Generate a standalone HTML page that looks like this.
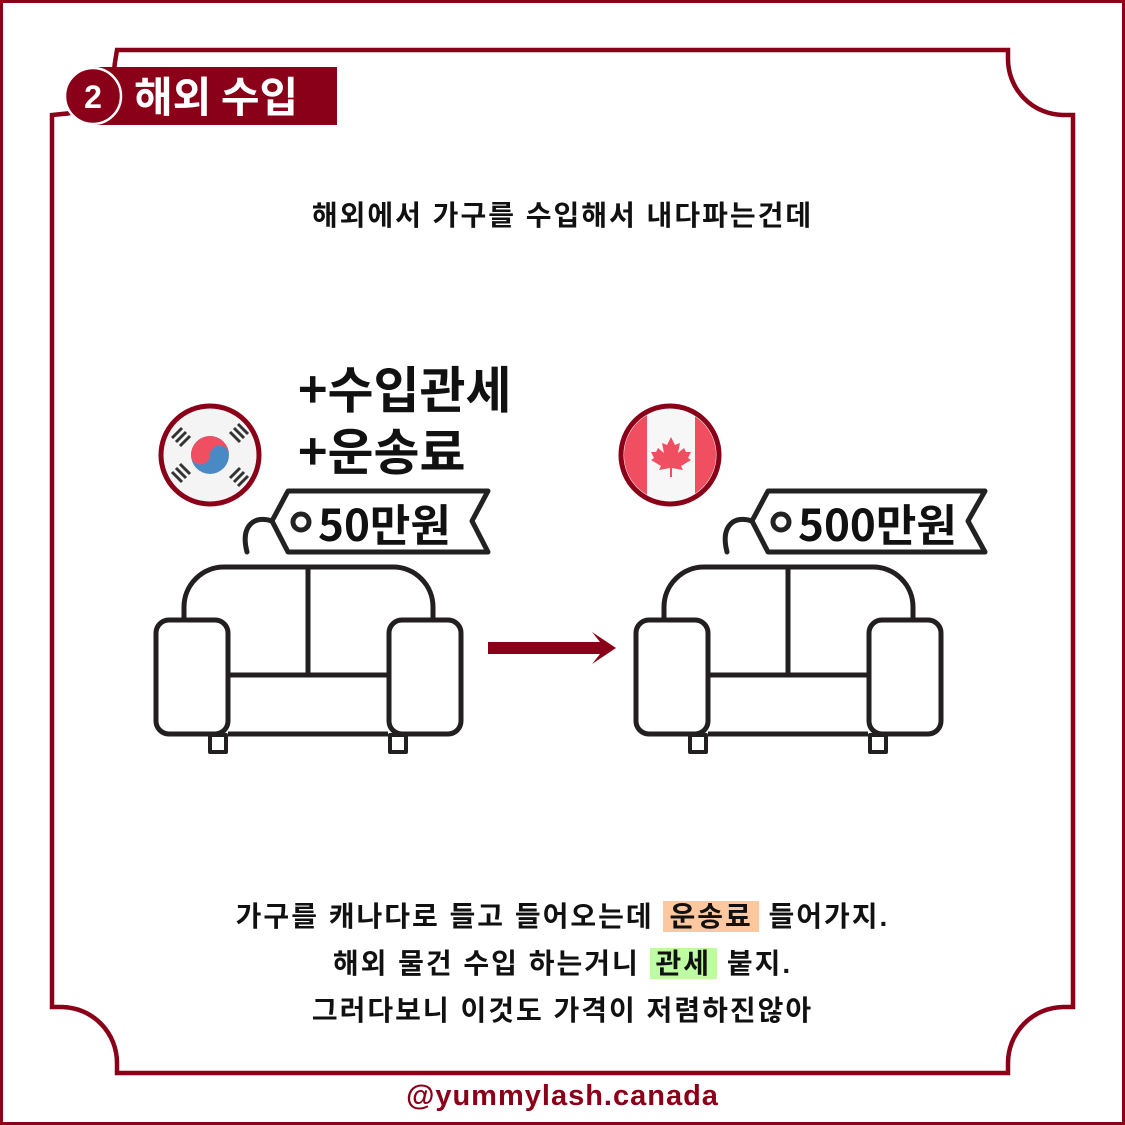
<!DOCTYPE html>
<html><head><meta charset="utf-8"><style>
html,body{margin:0;padding:0;background:#fff}
.w{position:relative;width:1125px;height:1125px;overflow:hidden;font-family:"Liberation Sans","Noto Sans CJK KR","NanumGothic",sans-serif}
.t{position:absolute;left:0;width:1125px;text-align:center;color:#111;font-weight:bold}
.hl{padding:0 6px}
</style></head><body><div class="w">
<svg width="1125" height="1125" style="position:absolute;left:0;top:0">
<rect x="1.5" y="1.5" width="1122" height="1122" fill="none" stroke="#8a0018" stroke-width="3"/>
<g fill="none" stroke="#8a0018" stroke-width="4.5">
<path d="M115,62 L117,50 L1008,50 L1008,58 A56,56 0 0 0 1063,115 L1073,115 L1073,1007 L1063,1007 A56,56 0 0 0 1008,1063 L1008,1073 L117,1073 L117,1063 A56,56 0 0 0 62,1007 L52,1007 L52,115 L62,114 A56,56 0 0 0 115,62"/>
</g>
<rect x="92" y="67" width="245" height="58" fill="#8a0018"/>
<circle cx="93" cy="96" r="28" fill="#8a0018" stroke="#fff" stroke-width="2.5"/>
<text x="93" y="108" font-size="32" font-weight="bold" fill="#fff" text-anchor="middle" font-family="Liberation Sans">2</text>
<text x="134" y="112" font-size="42" font-weight="bold" fill="#fff" font-family="Noto Sans CJK KR,sans-serif">해외 수입</text>
<!-- flags -->
<circle cx="210" cy="455" r="49" fill="#f4f4f4" stroke="#8a0018" stroke-width="5"/>
<circle cx="210" cy="455" r="19" fill="#4a8ac4"/>
<path d="M191,455 A19,19 0 0 1 229,455 A9.5,9.5 0 0 0 210,455 A9.5,9.5 0 0 1 191,455Z" fill="#ef4f61"/>
<g stroke="#333" stroke-width="3">
<path d="M172,438 l10,-10 M176,442 l10,-10 M180,446 l10,-10"/>
<path d="M230,432 l10,10 M234,428 l10,10 M238,424 l10,10"/>
<path d="M172,472 l10,10 M176,468 l10,10 M180,464 l10,10"/>
<path d="M230,478 l10,-10 M234,482 l10,-10 M238,486 l10,-10"/>
</g>
<circle cx="670" cy="455" r="49" fill="#f7f7f7" stroke="#8a0018" stroke-width="5"/>
<clipPath id="c"><circle cx="670" cy="455" r="46"/></clipPath>
<g clip-path="url(#c)" fill="#ef4f61"><rect x="620" y="400" width="27" height="110"/><rect x="695" y="400" width="27" height="110"/></g>
<path d="M671,437 l4,8 5,-2 -2,10 6,-5 2,4 5,0 -3,6 3,2 -10,6 2,4 -11,-2 0,9 -2,0 0,-9 -11,2 2,-4 -10,-6 3,-2 -3,-6 5,0 2,-4 6,5 -2,-10 5,2z" fill="#ef4f61"/>
<!-- tags -->
<g fill="#fff" stroke="#222" stroke-width="5" stroke-linejoin="round">
<path d="M288,491 L488,491 L472,521 L488,552 L288,552 L272,521Z"/>
<path d="M768,491 L985,491 L968,521 L985,552 L768,552 L752,521Z"/>
</g>
<g fill="none" stroke="#222" stroke-width="5" stroke-linecap="round">
<circle cx="301" cy="522" r="8"/><circle cx="781" cy="522" r="8"/>
<path d="M272,521 C255,515 240,525 247,552"/>
<path d="M752,521 C735,515 720,525 727,552"/>
</g>
<text x="318" y="541" font-size="44" font-weight="bold" fill="#111" font-family="Noto Sans CJK KR,sans-serif">50만원</text>
<text x="798" y="541" font-size="44" font-weight="bold" fill="#111" font-family="Noto Sans CJK KR,sans-serif">500만원</text>
<text x="298" y="408" font-size="50" font-weight="bold" fill="#111" font-family="Noto Sans CJK KR,sans-serif">+수입관세</text>
<text x="298" y="470" font-size="50" font-weight="bold" fill="#111" font-family="Noto Sans CJK KR,sans-serif">+운송료</text>
<!-- sofas -->
<g id="s" fill="none" stroke="#231f20" stroke-width="5" stroke-linejoin="round">
<path d="M184,619 L184,607 A40,40 0 0 1 224,567 L393,567 A40,40 0 0 1 433,607 L433,619"/>
<path d="M308,567 L308,675"/>
<path d="M228,675 L388,675"/>
<path d="M228,734 L388,734"/>
<rect x="156" y="620" width="72" height="114" rx="13"/>
<rect x="389" y="620" width="72" height="114" rx="13"/>
<rect x="210" y="735" width="16" height="17" stroke-width="4"/>
<rect x="390" y="735" width="16" height="17" stroke-width="4"/>
</g>
<use href="#s" x="480"/>
<path d="M488,642 L600,642 L592,632 L616,648 L592,664 L600,654 L488,654Z" fill="#8a0018"/>
</svg>
<div class="t" style="top:194px;font-size:28px;letter-spacing:2px">해외에서 가구를 수입해서 내다파는건데</div>
<div class="t" style="top:897px;font-size:28px;letter-spacing:2px;line-height:40px">가구를 캐나다로 들고 들어오는데 <span class="hl" style="background:#fdc79f">운송료</span> 들어가지.</div>
<div class="t" style="top:944px;font-size:28px;letter-spacing:2px;line-height:40px">해외 물건 수입 하는거니 <span class="hl" style="background:#bdfca0">관세</span> 붙지.</div>
<div class="t" style="top:991px;font-size:28px;letter-spacing:2px;line-height:40px">그러다보니 이것도 가격이 저렴하진않아</div>
<div class="t" style="top:1080px;font-size:29px;color:#8a0018;letter-spacing:1px">@yummylash.canada</div>
</div></body></html>
